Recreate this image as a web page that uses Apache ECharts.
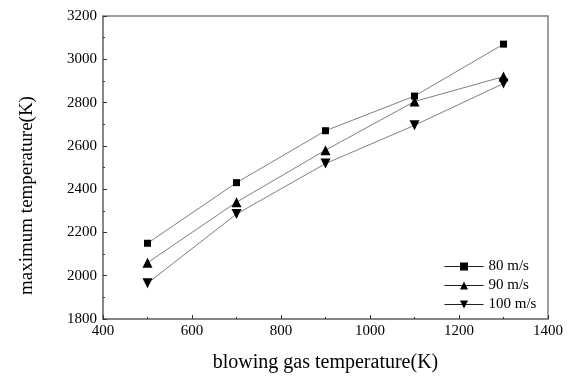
<!DOCTYPE html>
<html>
<head>
<meta charset="utf-8">
<script src="https://cdn.jsdelivr.net/npm/echarts@6/dist/echarts.min.js"></script>
<style>
  html, body { margin: 0; padding: 0; background: #fff; }
  #chart { width: 569px; height: 379px; }
</style>
</head>
<body>
<div id="chart"></div>
<script>
// Blowing gas temperature (K)
const gasTemps = [500, 700, 900, 1100, 1300];
// Maximum temperature (K) for each blowing velocity
const maxTemp80 = [2150, 2430, 2670, 2830, 3070];
const maxTemp90 = [2060, 2340, 2580, 2805, 2920];
const maxTemp100 = [1965, 2285, 2518, 2695, 2888];
const seriesNames = ['80 m/s', '90 m/s', '100 m/s'];

const pairs = (ys) => gasTemps.map((x, i) => [x, ys[i]]);
const serif = '"Liberation Serif", "DejaVu Serif", serif';
const lineGray = '#7f7f7f';

const axisCommon = {
  axisLine: { show: true, lineStyle: { color: lineGray, width: 1.5 } },
  axisTick: { show: true, inside: true, length: 4, lineStyle: { color: '#333', width: 1 } },
  minorTick: { show: true, splitNumber: 2, length: 2, lineStyle: { color: '#333', width: 1 } },
  splitLine: { show: false },
  axisLabel: { color: '#000', fontFamily: serif, fontSize: 15, formatter: v => String(v) },
  nameTextStyle: { color: '#000', fontFamily: serif }
};

const chart = echarts.init(document.getElementById('chart'));
chart.setOption({
  animation: false,
  backgroundColor: '#fff',
  grid: {
    left: 103, right: 21, top: 16, bottom: 60,
    show: true, borderColor: lineGray, borderWidth: 1.5, backgroundColor: 'transparent'
  },
  xAxis: Object.assign({}, axisCommon, {
    type: 'value', min: 400, max: 1400, interval: 200,
    name: 'blowing gas temperature(K)', nameLocation: 'middle', nameGap: 34,
    axisLabel: Object.assign({}, axisCommon.axisLabel, { margin: 5 }),
    nameTextStyle: Object.assign({}, axisCommon.nameTextStyle, { fontSize: 20 })
  }),
  yAxis: Object.assign({}, axisCommon, {
    type: 'value', min: 1800, max: 3200, interval: 200,
    name: 'maximum temperature(K)', nameLocation: 'middle', nameGap: 66,
    axisLabel: Object.assign({}, axisCommon.axisLabel, { margin: 6 }),
    nameTextStyle: Object.assign({}, axisCommon.nameTextStyle, { fontSize: 19, padding: [0, 56, 0, 0] })
  }),
  legend: {
    orient: 'vertical', left: 439, top: 254, itemGap: 4,
    itemWidth: 39, itemHeight: 10,
    lineStyle: { color: '#222', width: 1 },
    textStyle: { color: '#000', fontFamily: serif, fontSize: 15 },
    data: seriesNames
  },
  series: [
    { name: seriesNames[0], data: pairs(maxTemp80), symbol: 'rect', symbolSize: 7 },
    { name: seriesNames[1], data: pairs(maxTemp90), symbol: 'triangle', symbolSize: 10 },
    { name: seriesNames[2], data: pairs(maxTemp100), symbol: 'triangle', symbolSize: 10, symbolRotate: 180 }
  ].map(s => Object.assign({
    type: 'line',
    lineStyle: { color: lineGray, width: 1 },
    itemStyle: { color: '#000' },
    z: 3
  }, s))
});
</script>
</body>
</html>
